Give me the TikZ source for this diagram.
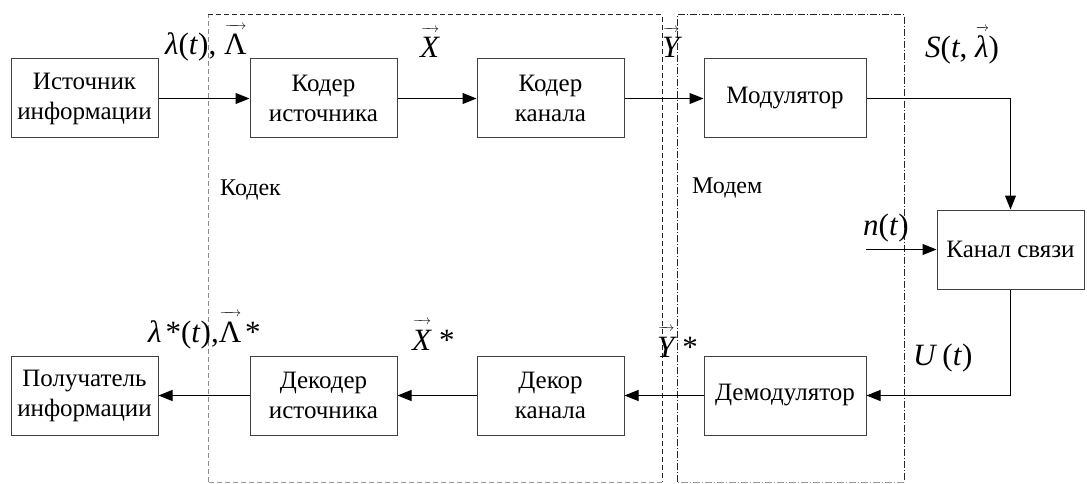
\documentclass[tikz,border=0pt]{standalone}
\usepackage{fix-cm}
\usepackage{fontspec}
\setmainfont{Liberation Serif}
\usetikzlibrary{arrows.meta}
\newcommand\vv[1]{\leavevmode\setbox0\hbox{#1}\vbox{\offinterlineskip\hbox to\wd0{\hskip1pt\fontsize{13}{13}\selectfont\rightarrowfill}\kern5pt\box0}}
\begin{document}
\begin{tikzpicture}[x=1pt,y=-1pt,
 blk/.style={draw=black!75, line width=1pt, minimum width=147pt, minimum height=79pt, inner sep=0pt, align=center, font=\fontsize{25}{30}\selectfont},
 lbl/.style={font=\fontsize{31}{36}\selectfont, inner sep=0pt, anchor=base west},
 caplbl/.style={font=\fontsize{24}{30}\selectfont, inner sep=0pt, anchor=west},
 arr/.style={line width=1pt, -{Triangle[length=14pt,width=11pt]}},
 codecd/.style={line width=1pt, dash pattern=on 5pt off 3pt},
 modemd/.style={line width=1pt, dash pattern=on 7pt off 2pt on 1pt off 2pt}]
\useasboundingbox (0,0) rectangle (1087,484);
% frames
\coordinate (k1) at (208,15); \coordinate (k2) at (662,15);
\coordinate (k3) at (662,482); \coordinate (k4) at (208,482);
\draw[codecd, black!85] (k1) -- (k2) -- (k3);
\draw[codecd, black!40] (k3) -- (k4);
\draw[codecd, black!45] (k4) -- (k1);
\coordinate (m1) at (677,15); \coordinate (m2) at (904,15);
\coordinate (m3) at (904,482); \coordinate (m4) at (677,482);
\draw[modemd, black!85] (m4) -- (m1) -- (m2) -- (m3);
\draw[modemd, black!40] (m3) -- (m4);
% blocks
\node[blk] (src) at (84.5,98.5) {Источник\\информации};
\node[blk] (cs) at (323.5,98.5) {Кодер\\источника};
\node[blk] (cc) at (550.5,98.5) {Кодер\\канала};
\node[blk, minimum width=162pt] (mod) at (785,98.5) {Модулятор};
\node[blk] (ch) at (1010.5,249.5) {Канал связи};
\node[blk, minimum width=162pt] (dem) at (785,395.5) {Демодулятор};
\node[blk] (dc) at (550.5,395.5) {Декор\\канала};
\node[blk] (ds) at (323.5,395.5) {Декодер\\источника};
\node[blk] (rcv) at (84.5,395.5) {Получатель\\информации};
% connectors
\draw[arr] (src) -- (cs);
\draw[arr] (cs) -- (cc);
\draw[arr] (cc) -- (mod);
\draw[arr] (mod.east) -| (ch.north);
\coordinate (nin) at (866,249.5);
\draw[arr] (nin) -- (ch.west);
\draw[arr] (ch.south) |- (dem.east);
\draw[arr] (dem) -- (dc);
\draw[arr] (dc) -- (ds);
\draw[arr] (ds) -- (rcv);
% labels
\node[lbl] (l1) at (165,55) {{\itshape λ}(\textit{t}), \vv{Λ}};
\node[lbl] (l2) at (420,58) {\vv{\itshape X}};
\node[lbl] (l3) at (662,58) {\vv{\itshape Y}};
\node[lbl] (l4) at (925,58) {\textit{S}(\textit{t}, \vv{\itshape λ})};
\node[lbl] (l5) at (863,235) {\textit{n}(\textit{t})};
\node[lbl] (l6) at (913,365) {\textit{U}\,(\textit{t})};
\node[lbl] (l7) at (657,357) {\vv{\itshape Y}\hspace{8pt}*};
\node[lbl] (l8) at (412,350) {\vv{\itshape X}\hspace{8pt}*};
\node[lbl] (l9) at (148,342) {{\itshape λ}\hspace{4pt}*(\textit{t}),\vv{Λ}\hspace{4pt}*};
\node[caplbl] (kodek) at (220,190) {Кодек};
\node[caplbl] (modem) at (692,188) {Модем};
\end{tikzpicture}
\end{document}
